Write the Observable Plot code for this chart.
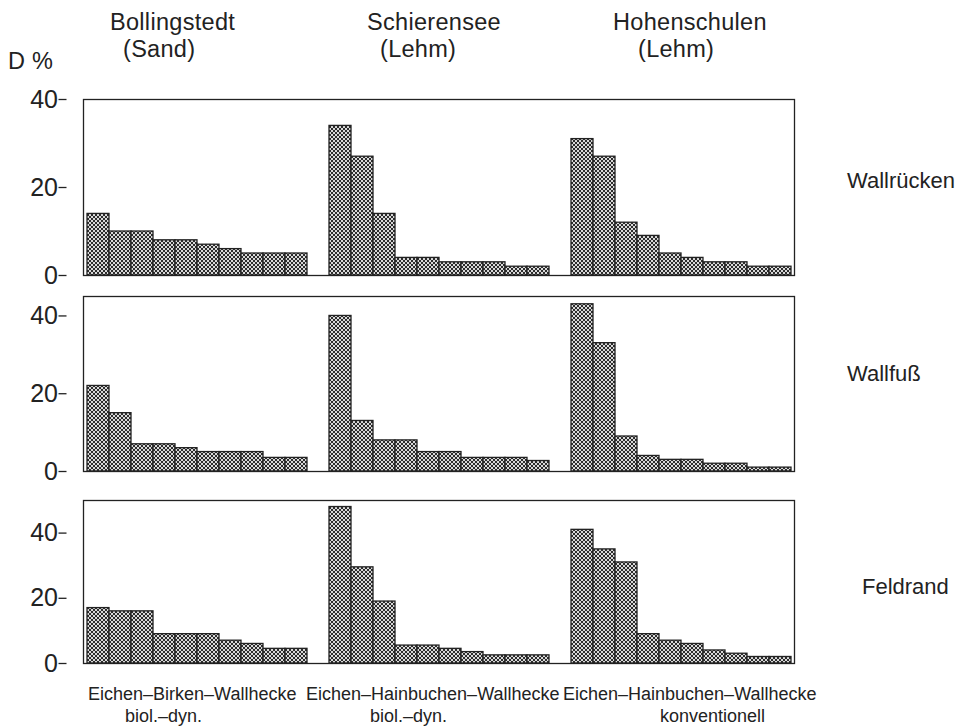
<!DOCTYPE html>
<html>
<head>
<meta charset="utf-8">
<script src="https://cdn.jsdelivr.net/npm/d3@7"></script>
<script src="https://cdn.jsdelivr.net/npm/@observablehq/plot@0.6"></script>
<style>
  body { margin: 0; background: #fff; }
  #chart { position: relative; width: 958px; height: 728px; overflow: hidden; background: #fff;
           font-family: "Liberation Sans", Arial, Helvetica, sans-serif; color: #222; }
  .lbl { position: absolute; white-space: nowrap; line-height: 0.9; }
  .head { font-size: 23.5px; letter-spacing: 0.3px; }
  .side { font-size: 22px; }
  .foot { font-size: 18px; }
  .row { position: absolute; left: 0; overflow: visible; }
</style>
</head>
<body>
<svg width="0" height="0" style="position:absolute">
  <defs>
    <pattern id="checker" width="4" height="4" patternUnits="userSpaceOnUse">
      <rect width="4" height="4" fill="#d8d8d8"></rect>
      <rect width="2" height="2" fill="#2c2c2c"></rect>
      <rect x="2" y="2" width="2" height="2" fill="#2c2c2c"></rect>
    </pattern>
  </defs>
</svg>
<div id="chart"></div>
<script>
// Sites (columns), hedge positions (rows) and the dominance values D % of the ten leading species
const sites = ["Bollingstedt", "Schierensee", "Hohenschulen"];
const soils = ["(Sand)", "(Lehm)", "(Lehm)"];
const hedgeTypes = ["Eichen–Birken–Wallhecke", "Eichen–Hainbuchen–Wallhecke", "Eichen–Hainbuchen–Wallhecke"];
const management = ["biol.–dyn.", "biol.–dyn.", "konventionell"];
const positions = ["Wallrücken", "Wallfuß", "Feldrand"];
const yTicks = [0, 20, 40];

const wallrueckenBollingstedt = [14, 10, 10, 8, 8, 7, 6, 5, 5, 5];
const wallrueckenSchierensee  = [34, 27, 14, 4, 4, 3, 3, 3, 2, 2];
const wallrueckenHohenschulen = [31, 27, 12, 9, 5, 4, 3, 3, 2, 2];

const wallfussBollingstedt = [22, 15, 7, 7, 6, 5, 5, 5, 3.5, 3.5];
const wallfussSchierensee  = [40, 13, 8, 8, 5, 5, 3.5, 3.5, 3.5, 2.7];
const wallfussHohenschulen = [43, 33, 9, 4, 3, 3, 2, 2, 1, 1];

const feldrandBollingstedt = [17, 16, 16, 9, 9, 9, 7, 6, 4.5, 4.5];
const feldrandSchierensee  = [48, 29.5, 19, 5.5, 5.5, 4.5, 3.5, 2.5, 2.5, 2.5];
const feldrandHohenschulen = [41, 35, 31, 9, 7, 6, 4, 3, 2, 2];

const ranks = d3.range(1, 11);
const chart = document.getElementById("chart");

// band layout of the three site groups within the framed row
const groupPadInner = 0.06;
const groupPadOuter = 0.068;
const plotLeft = 66, plotRight = 958 - 146;
const groupStep = (plotRight - plotLeft) / (sites.length - groupPadInner + 2 * groupPadOuter);
const axisShift = -groupStep * groupPadOuter; // y axis sits on the frame, left of the first group

// place an HTML label by its left edge and text baseline (line-height 0.9, Arial-like metrics)
function addLabel(text, cls, left, baseline, size) {
  const el = document.createElement("div");
  el.className = "lbl " + cls;
  el.textContent = text;
  el.style.left = left + "px";
  el.style.top = (baseline - (0.905 + (0.9 - 1.117) / 2) * size) + "px";
  chart.appendChild(el);
}

// One panel row: three site groups side by side inside a common frame
function rowPlot(series, yMax, top, marginTop, innerHeight) {
  const data = [];
  sites.forEach((site, j) => series[j].forEach((v, i) => data.push({site, rank: ranks[i], value: v})));
  const plot = Plot.plot({
    width: 958,
    height: marginTop + innerHeight + 14,
    marginTop,
    marginBottom: 14,
    marginLeft: plotLeft,
    marginRight: 958 - plotRight,
    style: {fontFamily: '"Liberation Sans", Arial, sans-serif', fontSize: "25px", color: "#222", background: "transparent", overflow: "visible"},
    fx: {domain: sites, paddingInner: groupPadInner, paddingOuter: groupPadOuter, axis: null},
    x: {domain: ranks, padding: 0, axis: null},
    y: {domain: [0, yMax], axis: null},
    marks: [
      Plot.barY(data, {fx: "site", x: "rank", y: "value", fill: "url(#checker)", stroke: "#222", strokeWidth: 1.3}),
      Plot.frame({facet: "super", stroke: "#222", strokeWidth: 1.3}),
      Plot.axisY({ticks: yTicks, tickSize: 8, tickPadding: 1, label: null, stroke: "#222", strokeWidth: 1.3,
                  fill: "#222", fontSize: 25, dx: axisShift})
    ]
  });
  plot.classList.add("row");
  plot.style.top = top + "px";
  chart.appendChild(plot);
}

rowPlot([wallrueckenBollingstedt, wallrueckenSchierensee, wallrueckenHohenschulen], 40, 80, 19, 176);
rowPlot([wallfussBollingstedt, wallfussSchierensee, wallfussHohenschulen], 45, 285, 11, 175);
rowPlot([feldrandBollingstedt, feldrandSchierensee, feldrandHohenschulen], 50, 481, 19, 163);

// Column headings
const headLeft = [110, 367, 613];
const soilLeft = [123, 380, 638];
sites.forEach((s, j) => {
  addLabel(s, "head", headLeft[j], 31, 23.5);
  addLabel(soils[j], "head", soilLeft[j], 57.5, 23.5);
});
addLabel("D %", "head", 8, 70, 23.5);

// Row names on the right
const sideLeft = [847, 847, 862];
const sideBase = [189, 382, 595];
positions.forEach((p, i) => addLabel(p, "side", sideLeft[i], sideBase[i], 22));

// Hedge type and management below the bottom row
const footLeft = [88, 306, 563];
const mgmtLeft = [125, 370, 660];
hedgeTypes.forEach((h, j) => {
  addLabel(h, "foot", footLeft[j], 700, 18);
  addLabel(management[j], "foot", mgmtLeft[j], 722, 18);
});
</script>
</body>
</html>
